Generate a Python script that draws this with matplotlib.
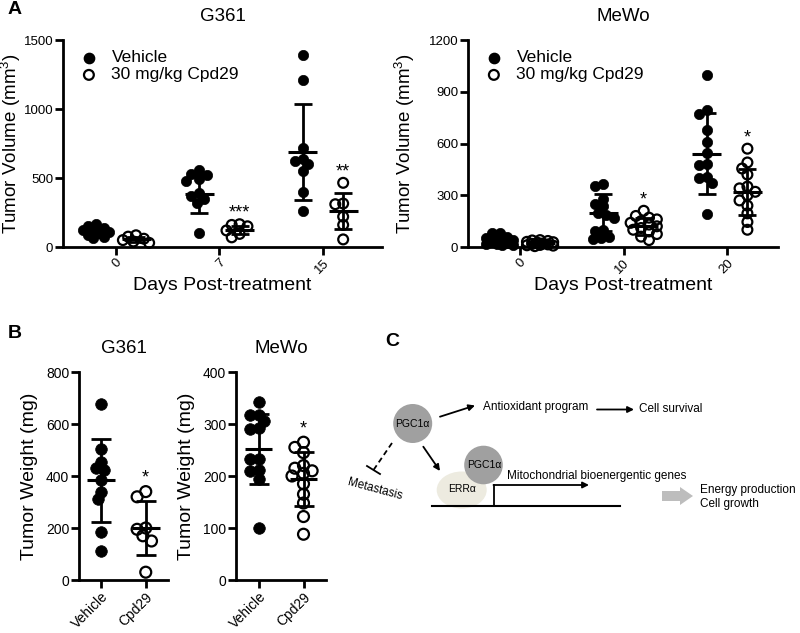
import numpy as np
import matplotlib
matplotlib.use('Agg')
import matplotlib.pyplot as plt
from matplotlib import patches

plt.rcParams['font.family'] = ['Liberation Sans', 'DejaVu Sans']
plt.rcParams['mathtext.default'] = 'regular'

# ---------------- data ----------------
days_g361 = ['0', '7', '15']
days_mewo = ['0', '10', '20']
groups_b = ['Vehicle', 'Cpd29']

# Panel A, G361 tumor volume (mm^3)
g361_veh_d0 = [170, 155, 140, 130, 120, 110, 100, 90, 75, 65]
g361_veh_d7 = [530, 525, 555, 495, 480, 390, 370, 350, 320, 100]
g361_veh_d15 = [1390, 1210, 720, 640, 620, 600, 550, 395, 260]
g361_cpd_d0 = [85, 75, 60, 50, 40, 30]
g361_cpd_d7 = [165, 160, 150, 120, 95, 70]
g361_cpd_d15 = [465, 315, 310, 220, 160, 55]
g361_veh_mean = [110, 385, 690]
g361_veh_sd = [35, 140, 346]
g361_cpd_mean = [55, 125, 262]
g361_cpd_sd = [20, 30, 130]
g361_stars = ['', '***', '**']

# Panel A, MeWo tumor volume (mm^3)
mewo_veh_d0 = [80, 80, 60, 50, 45, 40, 35, 30, 25, 20, 15, 10, 10]
mewo_veh_d10 = [365, 355, 280, 250, 235, 200, 185, 170, 100, 95, 60, 50, 45]
mewo_veh_d20 = [1000, 795, 770, 680, 610, 545, 480, 475, 405, 400, 370, 190]
mewo_cpd_d0 = [40, 38, 35, 30, 28, 25, 20, 18, 15, 12, 10, 8, 5]
mewo_cpd_d10 = [210, 180, 170, 160, 150, 140, 130, 120, 110, 100, 90, 75, 60, 40]
mewo_cpd_d20 = [570, 490, 455, 420, 350, 340, 320, 300, 270, 240, 195, 145, 100]
mewo_veh_mean = [35, 200, 542]
mewo_veh_sd = [20, 110, 235]
mewo_cpd_mean = [22, 120, 320]
mewo_cpd_sd = [12, 50, 135]
mewo_stars = ['', '*', '*']

# Panel B, tumor weight (mg)
g361_wt_veh = [678, 505, 455, 430, 425, 385, 340, 310, 185, 110]
g361_wt_cpd = [340, 320, 200, 195, 170, 150, 30]
g361_wt_mean = [383, 200]
g361_wt_sd = [159, 105]
mewo_wt_veh = [342, 318, 318, 305, 293, 290, 233, 232, 212, 210, 195, 100]
mewo_wt_cpd = [265, 255, 245, 220, 215, 210, 205, 200, 185, 165, 148, 122, 88]
mewo_wt_mean = [252, 195]
mewo_wt_sd = [68, 52]
wt_stars = ['', '*']

# ---------------- helpers ----------------
fig = plt.figure(figsize=(8.0, 6.33), dpi=100)
W, H = 800, 633


def add_ax(left, top, right, bottom):
    return fig.add_axes([left / W, 1 - bottom / H, (right - left) / W, (bottom - top) / H])


def style(ax):
    for s in ['top', 'right']:
        ax.spines[s].set_visible(False)
    for s in ['left', 'bottom']:
        ax.spines[s].set_linewidth(2)
    ax.tick_params(width=2, length=5.5, direction='out', labelsize=9.5, pad=1.5)


def swarm(ax, values, diam, thr=0.72, maxk=1.25):
    bb = ax.get_position()
    wpx = bb.width * W
    hpx = bb.height * H
    x0, x1 = ax.get_xlim()
    y0, y1 = ax.get_ylim()
    sx = wpx / (x1 - x0)
    sy = hpx / (y1 - y0)
    vals = np.asarray(values, float)
    offs = np.zeros(len(vals))
    placed = []
    step = diam * 0.25
    n = int(round(maxk / 0.25))
    cands = sorted([k * step for k in range(-n, n + 1)], key=abs)
    for i in np.argsort(-vals, kind='stable'):
        y = vals[i] * sy
        best, bestd = 0.0, -1.0
        for c in cands:
            dmin = min([np.hypot(c - px, y - py) for px, py in placed], default=1e9)
            if dmin >= thr * diam:
                best = c
                break
            if dmin > bestd + 0.5:
                best, bestd = c, dmin
        placed.append((best, y))
        offs[i] = best / sx
    return offs


def group(ax, xc, values, mean, sd, filled, ms, diam, half, cap):
    offs = swarm(ax, values, diam)
    if filled:
        ax.scatter(xc + offs, values, s=ms, facecolor='black', edgecolor='black',
                   linewidth=0.5, zorder=3, clip_on=False)
    else:
        ax.scatter(xc + offs, values, s=ms, facecolor='none', edgecolor='black',
                   linewidth=1.6, zorder=3, clip_on=False)
    ax.errorbar([xc], [mean], yerr=[sd], fmt='none', ecolor='black', elinewidth=2,
                capsize=cap, capthick=2, zorder=4)
    ax.hlines(mean, xc - half, xc + half, color='black', lw=2.2, zorder=4)


# ---------------- Panel A ----------------
def panel_a(ax, title, days, veh, cpd, vmean, vsd, cmean, csd, stars, ymax, yticks,
            xlim, ylab_x):
    ax.set_xlim(*xlim)
    ax.set_ylim(0, ymax)
    style(ax)
    d = 0.195
    for i in range(3):
        group(ax, i - d, veh[i], vmean[i], vsd[i], True, 55, 10.5, 0.14, 6.5)
        group(ax, i + d, cpd[i], cmean[i], csd[i], False, 50, 10.5, 0.14, 6.5)
        if stars[i]:
            ax.text(i + d, max(cpd[i]) + 0.012 * ymax, stars[i], ha='center', va='bottom',
                    fontsize=13)
    ax.set_xticks(range(3))
    ax.set_xticklabels(days, rotation=45, ha='right', rotation_mode='anchor')
    ax.set_yticks(yticks)
    ax.set_xlabel('Days Post-treatment', fontsize=14)
    ax.xaxis.set_label_coords(0.5, -0.145)
    ax.set_ylabel('Tumor Volume (mm$^{3}$)', fontsize=13.5)
    ax.yaxis.set_label_coords(ylab_x, 0.5)
    ax.set_title(title, fontsize=13.5, pad=14)
    h1 = ax.scatter([], [], s=55, facecolor='black', edgecolor='black')
    h2 = ax.scatter([], [], s=50, facecolor='none', edgecolor='black', linewidth=1.6)
    ax.legend([h1, h2], ['Vehicle', '30 mg/kg Cpd29'], loc='upper left',
              bbox_to_anchor=(0.005, 0.985), frameon=False, fontsize=12.5,
              labelspacing=0.12, handletextpad=0.3, borderaxespad=0)


axA1 = add_ax(63, 40, 382, 247)
panel_a(axA1, 'G361', days_g361,
        [g361_veh_d0, g361_veh_d7, g361_veh_d15],
        [g361_cpd_d0, g361_cpd_d7, g361_cpd_d15],
        g361_veh_mean, g361_veh_sd, g361_cpd_mean, g361_cpd_sd, g361_stars,
        1500, [0, 500, 1000, 1500], (-0.51, 2.57), -0.125)

axA2 = add_ax(468, 40, 778, 247)
panel_a(axA2, 'MeWo', days_mewo,
        [mewo_veh_d0, mewo_veh_d10, mewo_veh_d20],
        [mewo_cpd_d0, mewo_cpd_d10, mewo_cpd_d20],
        mewo_veh_mean, mewo_veh_sd, mewo_cpd_mean, mewo_cpd_sd, mewo_stars,
        1200, [0, 300, 600, 900, 1200], (-0.5, 2.49), -0.163)


# ---------------- Panel B ----------------
def panel_b(ax, title, veh, cpd, means, sds, ymax, yticks, ylab_x):
    ax.set_xlim(-0.5, 1.5)
    ax.set_ylim(0, ymax)
    style(ax)
    ax.tick_params(labelsize=10)
    group(ax, 0, veh, means[0], sds[0], True, 70, 11.5, 0.31, 7.5)
    group(ax, 1, cpd, means[1], sds[1], False, 62, 11.5, 0.31, 7.5)
    if wt_stars[1]:
        ax.text(1, max(cpd) + 0.025 * ymax, wt_stars[1], ha='center', va='bottom', fontsize=13)
    ax.set_xticks([0, 1])
    ax.set_xticklabels(groups_b, rotation=45, ha='right', rotation_mode='anchor')
    ax.set_yticks(yticks)
    ax.set_ylabel('Tumor Weight (mg)', fontsize=14)
    ax.yaxis.set_label_coords(ylab_x, 0.5)
    ax.set_title(title, fontsize=13.5, pad=14)


axB1 = add_ax(79, 372, 168, 580)
panel_b(axB1, 'G361', g361_wt_veh, g361_wt_cpd, g361_wt_mean, g361_wt_sd,
        800, [0, 200, 400, 600, 800], -0.46)
axB2 = add_ax(236, 372, 326, 580)
panel_b(axB2, 'MeWo', mewo_wt_veh, mewo_wt_cpd, mewo_wt_mean, mewo_wt_sd,
        400, [0, 100, 200, 300, 400], -0.456)

# ---------------- overlay: panel letters and diagram C ----------------
ov = fig.add_axes([0, 0, 1, 1], zorder=-1)
ov.set_xlim(0, W)
ov.set_ylim(H, 0)
ov.axis('off')

ov.text(8, 9, 'A', fontsize=14, fontweight='bold', va='center', ha='left')
ov.text(8, 333, 'B', fontsize=14, fontweight='bold', va='center', ha='left')
ov.text(385, 342, 'C', fontsize=14, fontweight='bold', va='center', ha='left')

grey = '#a0a0a0'
ov.add_patch(patches.Circle((412.7, 423.5), 19.5, color=grey, lw=0))
ov.text(412.7, 424, 'PGC1α', fontsize=7.5, ha='center', va='center')
ov.add_patch(patches.Ellipse((461.7, 490), 50, 37, color='#edebe0', lw=0))
ov.add_patch(patches.Circle((483.5, 465), 19.3, color=grey, lw=0))
ov.text(484.5, 465.5, 'PGC1α', fontsize=7.5, ha='center', va='center')
ov.text(462, 488.5, 'ERRα', fontsize=7.5, ha='center', va='center')

arr = dict(arrowstyle='-|>', lw=1.3, color='black', mutation_scale=9,
           shrinkA=0, shrinkB=0)
ov.annotate('', xy=(475, 405.5), xytext=(440, 416.7), arrowprops=arr)
ov.text(483, 407, 'Antioxidant program', fontsize=8.5, ha='left', va='center')
ov.annotate('', xy=(634, 409.5), xytext=(597, 409.5), arrowprops=arr)
ov.text(639, 409.5, 'Cell survival', fontsize=8.5, ha='left', va='center')
ov.annotate('', xy=(440, 471), xytext=(423.3, 446.7), arrowprops=arr)

ov.plot([392, 373.5], [443, 470], ls=(0, (3, 2)), color='black', lw=1.3)
ov.plot([367, 380], [466, 474], color='black', lw=1.3)
ov.text(375, 489, 'Metastasis', fontsize=8.5, ha='center', va='center', rotation=-15)

ov.plot([431.7, 620], [506, 506], color='black', lw=1.5)
ov.plot([494, 494], [506, 485], color='black', lw=1.3)
ov.annotate('', xy=(589, 485), xytext=(493.5, 485), arrowprops=arr)
ov.text(506.7, 476.5, 'Mitochondrial bioenergentic genes', fontsize=8.5, ha='left', va='center')

ov.add_patch(patches.FancyArrow(662, 496, 31, 0, width=10, head_width=18, head_length=13,
                                length_includes_head=True, color='#bdbdbd', lw=0))
ov.text(700, 490, 'Energy production', fontsize=8.5, ha='left', va='center')
ov.text(700, 504.5, 'Cell growth', fontsize=8.5, ha='left', va='center')

fig.savefig('out.png', dpi=100)
